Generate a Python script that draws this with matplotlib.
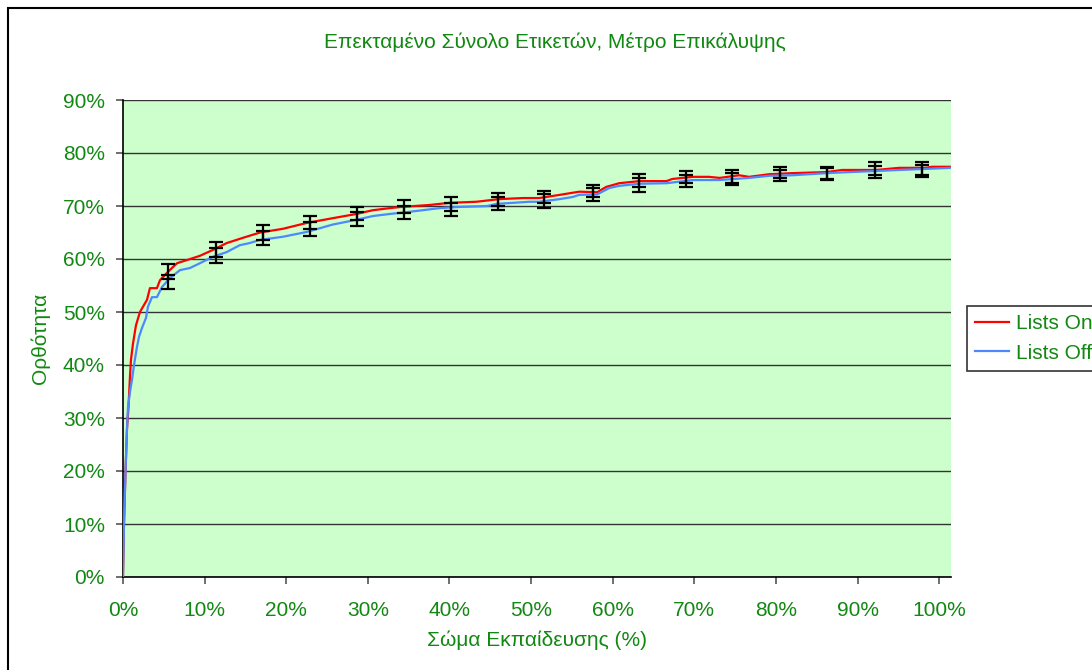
import matplotlib
matplotlib.use("Agg")
import matplotlib.pyplot as plt
from matplotlib.patches import Rectangle
from matplotlib.ticker import FuncFormatter

plt.rcParams['font.family'] = ['Liberation Sans', 'DejaVu Sans']

# ---- data (x = training corpus %, y = accuracy %) ----
red_x = [0.0, 0.12, 0.31, 0.49, 0.67, 0.86, 0.98, 1.22, 1.59, 2.08, 2.45, 2.94, 3.30,
         4.16, 4.53, 5.39, 6.61, 7.83, 9.42, 11.0, 12.7, 14.7, 16.8, 19.6, 22.5, 25.7,
         28.6, 30.6, 32.7, 33.9, 37.6, 40.0, 43.3, 46.1, 49.0, 51.0, 53.5, 55.9, 58.1,
         59.2, 60.8, 63.3, 66.6, 67.3, 69.8, 71.8, 73.1, 75.5, 76.7, 79.2, 82.0, 86.2,
         88.1, 92.3, 95.1, 98.4, 99.1, 101.3]
red_y = [0.0, 10.0, 20.0, 28.0, 32.0, 38.0, 41.0, 44.0, 47.5, 50.0, 51.0, 52.3, 54.5,
         54.5, 56.0, 57.4, 59.2, 59.8, 60.6, 61.7, 63.0, 64.0, 65.0, 65.7, 66.8, 67.7,
         68.5, 69.2, 69.6, 69.8, 70.2, 70.6, 70.8, 71.3, 71.5, 71.5, 72.1, 72.7, 72.6,
         73.6, 74.3, 74.7, 74.7, 75.1, 75.5, 75.5, 75.3, 75.8, 75.5, 76.0, 76.2, 76.4,
         76.8, 76.8, 77.2, 77.2, 77.4, 77.4]

blue_x = [0.0, 0.12, 0.31, 0.49, 0.61, 0.86, 1.10, 1.35, 1.71, 1.96, 2.33, 2.82, 3.06,
          3.55, 4.16, 4.77, 5.75, 6.98, 8.20, 9.42, 11.0, 12.7, 14.3, 15.5, 16.8, 19.6,
          22.5, 25.7, 28.6, 30.6, 32.7, 35.1, 38.8, 40.9, 44.6, 45.8, 49.8, 51.0, 53.5,
          55.1, 55.9, 58.1, 59.6, 60.8, 63.3, 66.6, 69.8, 73.1, 76.7, 79.2, 82.0, 86.2,
          89.0, 92.3, 95.1, 98.4, 101.3]
blue_y = [0.0, 10.0, 20.0, 28.0, 32.0, 35.0, 37.2, 40.0, 43.4, 45.3, 47.0, 48.9, 51.0,
          52.8, 52.8, 54.7, 56.4, 57.9, 58.3, 59.2, 60.4, 61.3, 62.6, 63.0, 63.6, 64.2,
          65.1, 66.5, 67.4, 68.1, 68.5, 68.9, 69.6, 69.8, 70.0, 70.4, 70.8, 70.8, 71.3,
          71.7, 72.1, 72.2, 73.4, 73.8, 74.2, 74.3, 74.9, 74.9, 75.3, 75.7, 75.8, 76.2,
          76.4, 76.6, 76.8, 77.0, 77.2]

err_x = [5.51, 11.38, 17.14, 22.89, 28.64, 34.39, 40.15, 45.90, 51.53, 57.53, 63.28,
         69.03, 74.66, 80.54, 86.29, 92.17, 97.92]
red_err_y = [57.6, 61.8, 65.0, 66.9, 68.6, 69.9, 70.4, 71.2, 71.7, 72.8, 74.8, 75.5,
             75.5, 76.3, 76.2, 77.1, 77.1]
red_err = [1.4, 1.4, 1.4, 1.2, 1.3, 1.2, 1.3, 1.2, 1.1, 1.1, 1.2, 1.1, 1.2, 1.0, 1.1, 1.2, 1.2]
blue_err_y = [55.7, 60.7, 63.9, 65.6, 67.5, 68.8, 69.3, 70.5, 70.9, 72.2, 74.0, 74.7,
              75.1, 75.8, 76.0, 76.4, 76.6]
blue_err = [1.3, 1.4, 1.3, 1.3, 1.3, 1.2, 1.2, 1.2, 1.3, 1.2, 1.3, 1.1, 1.2, 1.0, 1.1, 1.1, 1.1]

title = 'Επεκταμένο Σύνολο Ετικετών, Μέτρο Επικάλυψης'
xlabel = 'Σώμα Εκπαίδευσης (%)'
ylabel = 'Ορθότητα'
green = '#118811'

W, H = 1092, 670
fig = plt.figure(figsize=(W / 100, H / 100), dpi=100)
fig.patch.set_facecolor('white')

# chart area border (only top and left edges are visible in the picture)
fig.patches.append(Rectangle((8 / W, -0.2), 1.5, 1.2 - 8 / H, transform=fig.transFigure,
                             fill=False, edgecolor='black', linewidth=1.5))

ax = fig.add_axes([123 / W, 1 - 577 / H, (951 - 123) / W, (577 - 100) / H])
ax.set_facecolor('#ccffcc')

ax.plot(red_x, red_y, color='#ff0000', lw=1.6, label='Lists On', zorder=3)
ax.plot(blue_x, blue_y, color='#4d88ff', lw=1.6, label='Lists Off', zorder=3)

ebkw = dict(fmt='none', ecolor='black', elinewidth=1.6, capsize=5, capthick=1.6, zorder=4)
ax.errorbar(err_x, red_err_y, yerr=red_err, **ebkw)
ax.errorbar(err_x, blue_err_y, yerr=blue_err, **ebkw)

ax.set_xlim(0, 101.45)
ax.set_ylim(0, 90)
ax.set_xticks(range(0, 101, 10))
ax.set_yticks(range(0, 91, 10))
pct = FuncFormatter(lambda v, p: f'{v:.0f}%')
ax.xaxis.set_major_formatter(pct)
ax.yaxis.set_major_formatter(pct)

ax.grid(axis='y', color='#333333', lw=1.0, zorder=1)
ax.set_axisbelow(True)
for s in ['top', 'right']:
    ax.spines[s].set_visible(False)
for s in ['left', 'bottom']:
    ax.spines[s].set_color('black')
    ax.spines[s].set_linewidth(1.2)

ax.tick_params(axis='both', direction='out', length=5, width=1.2, color='#555555',
               labelcolor=green, labelsize=15)
ax.tick_params(axis='y', pad=8)
ax.tick_params(axis='x', pad=12)

fig.text(555 / W, 1 - 42 / H, title, color=green, fontsize=15, ha='center', va='center')
fig.text(537 / W, 1 - 640 / H, xlabel, color=green, fontsize=15, ha='center', va='center')
fig.text(40 / W, 1 - 338 / H, ylabel, color=green, fontsize=15, ha='center', va='center',
         rotation=90)

leg = fig.legend(loc='upper left', bbox_to_anchor=(967 / W, 1 - 306 / H), fontsize=15,
                 frameon=True, fancybox=False, handlelength=1.6, handletextpad=0.35,
                 borderpad=0.4, labelspacing=0.5, borderaxespad=0)
leg.get_frame().set_edgecolor('black')
leg.get_frame().set_linewidth(1.2)
for t in leg.get_texts():
    t.set_color(green)

fig.savefig('out.png', dpi=100, facecolor='white')
